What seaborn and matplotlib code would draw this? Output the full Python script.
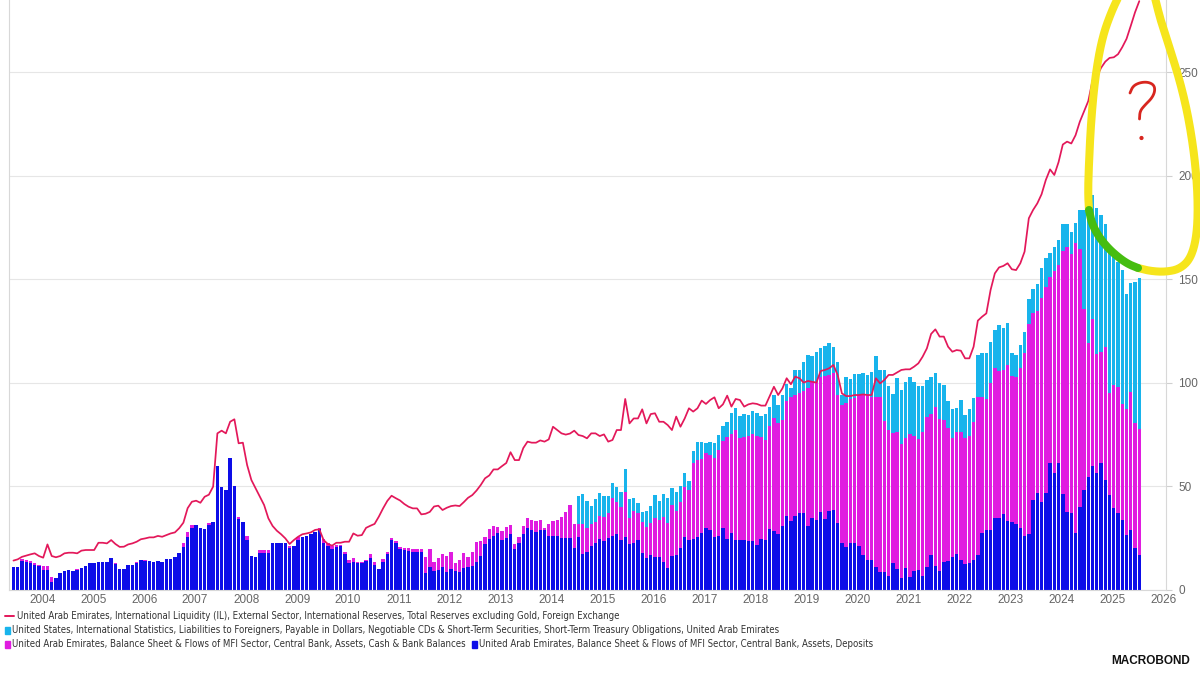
import numpy as np
import pandas as pd
import seaborn as sns
import matplotlib.pyplot as plt
from matplotlib import font_manager
from matplotlib.patches import Rectangle, Circle

sns.set_theme(style="white")

fonts = font_manager.fontManager.ttflist
names = {f.name for f in fonts}
if "Liberation Sans Narrow" in names:
    LEG_FAMILY, LEG_STRETCH = "Liberation Sans Narrow", "normal"
elif any(f.name == "DejaVu Sans" and f.stretch == "condensed" for f in fonts):
    LEG_FAMILY, LEG_STRETCH = "DejaVu Sans", "condensed"
else:
    LEG_FAMILY, LEG_STRETCH = "Liberation Sans", "normal"
plt.rcParams["font.family"] = ["Liberation Sans", "DejaVu Sans"]

# monthly data, Dec 2003 .. Jan 2026, USD bn
deposits = [
    10.9,                                                                     # 2003-12
    11.3, 14.0, 13.7, 12.9, 12.1, 11.7, 9.6, 9.6, 4.0, 5.6, 8.0, 9.3,          # 2004
    9.6, 9.3, 9.7, 10.5, 11.6, 12.9, 13.2, 13.7, 13.5, 13.4, 15.3, 12.4,      # 2005
    10.1, 10.3, 12.2, 12.2, 13.2, 14.5, 14.0, 13.8, 13.5, 14.2, 13.4, 14.8,   # 2006
    15.1, 16.1, 18.0, 20.9, 25.4, 29.8, 31.4, 30.1, 29.4, 31.4, 33.0, 60.0,   # 2007
    49.9, 48.3, 63.5, 50.2, 34.1, 33.0, 24.1, 16.6, 16.1, 18.0, 18.0, 18.0,   # 2008
    22.5, 22.5, 22.5, 22.5, 20.4, 21.2, 24.1, 25.7, 26.2, 26.9, 28.0, 29.4,   # 2009
    22.8, 21.4, 19.8, 20.9, 21.2, 17.4, 12.9, 13.7, 12.9, 13.2, 14.0, 15.5,   # 2010
    12.1, 10.0, 13.7, 17.4, 24.1, 22.5, 19.6, 19.3, 19.0, 18.5, 18.5, 18.5,   # 2011
    8.0, 10.9, 9.3, 9.7, 10.9, 8.8, 10.1, 9.2, 8.5, 10.8, 11.3, 11.6,         # 2012
    13.7, 16.6, 22.0, 24.5, 26.2, 27.3, 24.1, 25.3, 27.0, 19.6, 22.5, 26.9,   # 2013
    29.8, 29.0, 28.2, 29.0, 29.0, 26.1, 26.1, 26.1, 25.3, 25.3, 25.3, 20.4,   # 2014
    25.4, 17.4, 18.5, 21.2, 22.8, 24.5, 23.8, 24.9, 26.2, 26.9, 24.1, 25.7,   # 2015
    22.0, 22.8, 24.1, 18.0, 15.3, 16.9, 15.8, 16.1, 13.4, 10.8, 16.4, 16.7,   # 2016
    20.1, 25.4, 24.1, 24.5, 25.7, 27.3, 29.8, 29.0, 25.4, 26.1, 29.8, 24.5,   # 2017
    27.3, 24.1, 24.1, 24.1, 23.8, 23.6, 21.7, 24.5, 24.1, 29.3, 28.6, 27.0,   # 2018
    30.9, 35.7, 33.5, 35.7, 37.0, 37.0, 31.0, 34.9, 33.8, 37.8, 34.3, 38.3,   # 2019
    38.6, 32.2, 22.5, 20.9, 22.8, 22.8, 21.2, 16.9, 14.5, 14.5, 11.3, 8.8,    # 2020
    8.8, 6.8, 13.2, 10.0, 5.6, 10.8, 6.4, 9.3, 9.7, 6.8, 10.9, 16.9,          # 2021
    11.6, 9.3, 13.7, 14.2, 16.1, 17.4, 14.5, 12.5, 12.9, 14.5, 16.9, 27.7,    # 2022
    29.0, 29.0, 34.6, 34.9, 36.5, 33.5, 32.7, 31.7, 29.8, 26.1, 27.0, 43.4,   # 2023
    47.0, 42.6, 46.7, 61.1, 56.3, 61.5, 46.3, 37.8, 37.0, 27.7, 39.9, 48.3,   # 2024
    54.4, 59.8, 56.3, 61.1, 53.1, 45.8, 39.4, 37.0, 33.8, 26.5, 29.0, 20.1,   # 2025
    16.9,                                                                     # 2026-01
]

cash = [
    0.0,
    0.0, 0.8, 0.8, 1.1, 0.8, 0.5, 2.1, 2.1, 2.1, 0.0, 0.0, 0.0,               # 2004
    0.0, 0.0, 0.3, 0.0, 0.0, 0.0, 0.0, 0.0, 0.0, 0.0, 0.0, 0.5,               # 2005
    0.0, 0.0, 0.0, 0.0, 0.3, 0.0, 0.3, 0.0, 0.0, 0.0, 0.0, 0.0,               # 2006
    0.0, 0.0, 0.0, 1.6, 2.6, 1.6, 0.0, 0.0, 0.0, 0.9, 0.0, 0.0,               # 2007
    0.0, 0.0, 0.0, 0.0, 1.3, 0.0, 2.0, 0.0, 0.0, 1.1, 1.1, 1.1,               # 2008
    0.0, 0.0, 0.0, 0.0, 1.0, 0.0, 1.3, 0.0, 0.0, 0.0, 0.0, 0.7,               # 2009
    1.7, 1.1, 1.2, 0.7, 0.4, 1.1, 1.6, 1.6, 0.6, 0.3, 0.5, 2.0,               # 2010
    1.6, 0.0, 1.1, 1.1, 0.8, 1.1, 1.3, 1.1, 1.1, 1.1, 1.1, 1.1,               # 2011
    8.1, 8.9, 4.4, 5.6, 6.3, 7.8, 8.1, 3.7, 6.0, 6.9, 4.8, 6.9,               # 2012
    9.6, 7.2, 3.4, 4.9, 4.8, 3.3, 4.5, 5.3, 4.4, 2.6, 2.9, 4.1,               # 2013
    4.8, 4.8, 5.3, 4.8, 0.8, 5.8, 7.2, 7.7, 9.8, 12.5, 15.7, 11.5,            # 2014
    6.5, 14.5, 11.3, 10.7, 10.2, 11.4, 11.6, 12.1, 18.4, 15.4, 15.8, 21.4,    # 2015
    12.6, 15.5, 12.9, 14.7, 15.3, 15.6, 18.8, 17.7, 22.0, 21.4, 24.6, 21.6,   # 2016
    22.5, 24.1, 24.2, 36.6, 37.0, 35.8, 36.5, 36.2, 38.1, 41.5, 42.1, 49.2,   # 2017
    48.0, 53.1, 49.1, 49.9, 50.7, 51.7, 52.8, 49.2, 48.3, 49.9, 54.3, 53.4,   # 2018
    51.1, 55.7, 59.8, 58.4, 57.9, 59.2, 66.3, 66.1, 66.7, 65.2, 69.1, 65.5,   # 2019
    66.0, 61.9, 66.8, 69.5, 69.2, 70.0, 72.9, 77.2, 79.6, 78.8, 82.0, 84.5,   # 2020
    72.9, 70.4, 62.7, 66.4, 64.9, 62.4, 68.7, 65.0, 63.0, 69.6, 72.8, 67.9,   # 2021
    76.9, 73.1, 68.3, 63.8, 57.4, 59.0, 61.9, 61.0, 61.4, 66.7, 76.4, 65.3,   # 2022
    63.0, 71.1, 72.7, 71.0, 69.7, 75.1, 70.6, 70.9, 77.5, 88.4, 101.4, 90.4,  # 2023
    87.7, 98.2, 99.4, 90.1, 97.8, 95.4, 117.5, 127.9, 125.0, 139.6, 124.5, 87.2,  # 2024
    65.0, 70.8, 57.6, 53.9, 64.3, 49.1, 59.5, 60.8, 56.0, 60.7, 66.7, 60.3,   # 2025
    60.6,
]

# US TIC short-term treasuries held by UAE, starts Jan 2015
treasuries = [
    13.6, 14.4, 13.2, 8.8, 11.1, 11.1, 10.1, 8.4, 7.2, 7.6, 7.2, 11.1,        # 2015
    9.2, 5.9, 4.8, 4.8, 7.7, 8.0, 11.2, 9.3, 10.8, 12.4, 8.4, 9.2,            # 2016
    7.6, 7.1, 4.5, 6.1, 8.9, 8.5, 4.5, 6.4, 7.3, 7.2, 7.3, 7.3,               # 2017
    10.3, 10.5, 10.8, 10.9, 10.0, 11.1, 10.8, 10.4, 12.4, 9.3, 11.2, 8.9,     # 2018
    12.1, 7.9, 4.4, 12.1, 11.3, 14.0, 16.1, 11.9, 14.5, 13.6, 14.5, 15.6,     # 2019
    12.8, 16.1, 4.8, 12.2, 9.7, 11.3, 10.0, 10.8, 9.7, 12.1, 19.8, 12.9,      # 2020
    24.5, 21.3, 18.7, 25.8, 26.0, 27.3, 27.9, 26.2, 25.8, 22.1, 17.7, 17.8,   # 2021
    16.1, 17.7, 16.9, 13.4, 13.7, 11.6, 15.3, 11.0, 12.9, 11.3, 20.1, 21.5,   # 2022
    22.2, 19.4, 18.2, 22.0, 20.4, 20.1, 10.9, 10.8, 10.9, 10.2, 12.0, 11.3,   # 2023
    13.0, 14.8, 14.0, 11.6, 11.6, 12.0, 12.8, 10.9, 10.9, 10.0, 19.0, 47.9,   # 2024
    69.6, 60.0, 70.3, 66.0, 59.2, 71.3, 62.3, 60.7, 64.6, 55.8, 52.3, 68.2,   # 2025
    72.9,
]

reserves = [
    14.2,
    14.8, 16.0, 16.6, 17.2, 17.7, 16.4, 15.6, 22.0, 16.4, 15.8, 16.4, 17.7,   # 2004
    18.0, 18.0, 17.7, 19.0, 19.3, 19.3, 19.3, 22.8, 22.8, 22.5, 24.1, 22.2,   # 2005
    20.8, 20.9, 22.0, 22.5, 23.3, 24.5, 24.9, 25.4, 25.4, 26.1, 25.7, 26.5,   # 2006
    27.3, 27.8, 29.8, 32.5, 39.5, 42.6, 43.1, 42.1, 45.0, 46.0, 49.9, 75.6,   # 2007
    76.9, 75.6, 81.2, 82.4, 70.8, 71.1, 60.3, 53.1, 49.1, 45.0, 41.0, 34.6,   # 2008
    30.9, 28.6, 26.9, 24.9, 22.2, 24.1, 25.7, 26.9, 27.3, 27.8, 29.0, 29.3,   # 2009
    24.1, 22.2, 21.4, 22.8, 22.8, 23.3, 23.3, 27.3, 26.2, 26.5, 30.0, 31.0,   # 2010
    31.9, 35.4, 39.4, 43.0, 45.5, 44.3, 43.2, 41.5, 40.2, 39.4, 39.4, 36.5,   # 2011
    36.8, 37.7, 40.3, 40.7, 38.6, 39.7, 40.5, 40.8, 40.5, 42.4, 44.5, 45.8,   # 2012
    48.0, 50.7, 53.9, 55.3, 58.2, 58.2, 59.8, 61.3, 66.5, 62.7, 62.7, 68.5,   # 2013
    71.6, 71.1, 71.1, 72.2, 71.6, 72.7, 78.8, 77.2, 75.6, 75.0, 75.5, 76.9,   # 2014
    74.8, 74.3, 73.2, 75.6, 75.6, 74.3, 75.1, 71.6, 72.4, 77.2, 77.2, 92.2,   # 2015
    80.4, 82.8, 82.8, 87.2, 80.4, 84.9, 85.3, 81.2, 81.2, 79.6, 77.2, 83.7,   # 2016
    78.8, 82.8, 87.7, 86.1, 87.7, 91.4, 89.8, 91.7, 93.0, 87.7, 89.6, 93.8,   # 2017
    88.5, 92.2, 91.7, 88.5, 89.6, 90.1, 89.8, 89.0, 89.0, 93.6, 98.1, 94.1,   # 2018
    97.3, 102.2, 99.3, 103.0, 102.2, 100.1, 100.9, 100.5, 100.1, 105.7, 106.2, 107.0,  # 2019
    108.6, 103.8, 94.9, 93.6, 93.6, 94.1, 94.1, 94.4, 94.1, 94.1, 102.2, 99.7,  # 2020
    101.4, 103.8, 103.8, 105.0, 106.2, 106.5, 106.5, 107.8, 109.4, 112.6, 116.6, 123.6,  # 2021
    125.8, 122.3, 122.3, 117.4, 115.0, 115.8, 115.5, 111.8, 111.8, 117.4, 130.0, 131.9,  # 2022
    133.5, 144.8, 152.8, 155.7, 156.4, 157.7, 154.8, 154.4, 157.7, 163.3, 179.4, 183.4,  # 2023
    186.6, 191.0, 197.9, 203.0, 200.3, 206.5, 215.0, 216.4, 215.5, 219.5, 226.0, 231.0,  # 2024
    236.0, 246.0, 247.6, 252.0, 255.0, 256.8, 257.1, 258.6, 262.0, 266.0, 272.3, 278.8,  # 2025
    284.2,
]

years = list(range(2004, 2027))

legend_labels = [
    "United Arab Emirates, International Liquidity (IL), External Sector, International Reserves, "
    "Total Reserves excluding Gold, Foreign Exchange",
    "United States, International Statistics, Liabilities to Foreigners, Payable in Dollars, "
    "Negotiable CDs & Short-Term Securities, Short-Term Treasury Obligations, United Arab Emirates",
    "United Arab Emirates, Balance Sheet & Flows of MFI Sector, Central Bank, Assets, Cash & Bank Balances",
    "United Arab Emirates, Balance Sheet & Flows of MFI Sector, Central Bank, Assets, Deposits",
]

RED = "#e3185a"
CYAN = "#18b4ec"
MAGENTA = "#e01ce0"
BLUE = "#0d0de8"
GREY = "#666666"

months = pd.period_range("2003-12", periods=len(deposits), freq="M")
n_pad = len(deposits) - len(treasuries)
df = pd.DataFrame({
    "x": np.asarray(months.year + (months.month - 1) / 12 + 0.02, dtype=float),
    "deposits": deposits,
    "cash": cash,
    "treasuries": [0.0] * n_pad + treasuries,
    "reserves": reserves,
})
df["cash_top"] = df["deposits"] + df["cash"]
df["total"] = df["cash_top"] + df["treasuries"]

fig = plt.figure(figsize=(12, 6.75), dpi=100)
ax = fig.add_axes([9.3 / 1200, 85 / 675, (1166 - 9.3) / 1200, 590 / 675])

# stacked bars drawn as overlapping layers (tallest first)
for col, color in [("total", CYAN), ("cash_top", MAGENTA), ("deposits", BLUE)]:
    sns.barplot(data=df, x="x", y=col, native_scale=True, color=color, saturation=1,
                width=0.8, errorbar=None, linewidth=0, edgecolor="none", ax=ax)
sns.lineplot(data=df, x="x", y="reserves", color=RED, linewidth=1.25, ax=ax)

ax.set_xlim(2003.855, 2004 + (1166 - 16.7) / 50.98)
ax.set_ylim(0, 284.75)
ax.set_xlabel("")
ax.set_ylabel("")

ax.set_xticks(years)
ax.set_xticklabels([])
ax.set_xticks([y + 0.5 for y in years], minor=True)
ax.set_xticklabels([str(y) for y in years], minor=True)
ax.tick_params(axis="x", which="major", length=4, width=0.8, color="#cccccc", direction="out")
ax.tick_params(axis="x", which="minor", length=0, pad=3, labelsize=8.5, labelcolor=GREY)

ax.yaxis.tick_right()
ax.set_yticks(range(0, 251, 50))
ax.tick_params(axis="y", length=4, width=0.8, color="#d0d0d0", direction="out",
               pad=5, labelsize=8.5, labelcolor=GREY)
ax.grid(axis="y", color="#e6e6e6", linewidth=0.8)
ax.grid(axis="x", visible=False)
ax.set_axisbelow(True)
for side in ["left", "right", "bottom"]:
    ax.spines[side].set_color("#d8d8d8")
    ax.spines[side].set_linewidth(0.8)
ax.spines["top"].set_visible(False)

# overlay in pixel coordinates for legend, logo and the hand-drawn marks
ov = fig.add_axes([0, 0, 1, 1], zorder=5)
ov.set_xlim(0, 1200)
ov.set_ylim(675, 0)
ov.axis("off")

leg_kw = dict(fontsize=8.5, color="#333333", va="center", family=[LEG_FAMILY, "DejaVu Sans"],
              fontstretch=LEG_STRETCH)
t1 = ov.text(17, 616, legend_labels[0], **leg_kw)
t2 = ov.text(12, 630, legend_labels[1], **leg_kw)
t3 = ov.text(12, 644, legend_labels[2], **leg_kw)
t4 = ov.text(485, 644, legend_labels[3], **leg_kw)

# fit the legend font size so the first entry spans the same width as in the source
fig.canvas.draw()
renderer = fig.canvas.get_renderer()
w1 = t1.get_window_extent(renderer=renderer).width
size = 8.5 * 601 / w1
for t in (t1, t2, t3, t4):
    t.set_fontsize(size)
fig.canvas.draw()
end3 = t3.get_window_extent(renderer=renderer).x1
t4.set_x(end3 + 13)

ov.plot([5, 14], [616, 616], color=RED, lw=1.4)
ov.add_patch(Rectangle((5, 627), 5, 7, color=CYAN))
ov.add_patch(Rectangle((5, 641), 5, 7, color=MAGENTA))
ov.add_patch(Rectangle((end3 + 6, 641), 5, 7, color=BLUE))

ov.text(1190, 661, "MACROBOND", ha="right", va="center", fontsize=8.5,
        fontweight="bold", color="#111111")


def smooth(pts, n=4):
    p = np.asarray(pts, dtype=float)
    for _ in range(n):
        q = 0.75 * p[:-1] + 0.25 * p[1:]
        r = 0.25 * p[:-1] + 0.75 * p[1:]
        p = np.vstack([p[:1], np.column_stack([q, r]).reshape(-1, 2), p[-1:]])
    return p


left_arm = smooth([(1122, -10), (1112, 10), (1102, 38), (1095, 78), (1091, 122),
                   (1089, 162), (1088, 192), (1089, 210)])
green_arm = smooth([(1089, 210), (1092, 224), (1099, 237), (1108, 248),
                    (1118, 257), (1128, 264), (1138, 268)])
right_arm = smooth([(1138, 268), (1150, 271), (1165, 272), (1180, 269), (1191, 258),
                    (1197, 235), (1198, 200), (1195, 160), (1189, 120), (1181, 85),
                    (1171, 52), (1161, 22), (1153, -10)])
for arm, col in [(left_arm, "#f6e51c"), (right_arm, "#f6e51c"), (green_arm, "#46bd10")]:
    ov.plot(arm[:, 0], arm[:, 1], color=col, lw=5.8, solid_capstyle="round",
            solid_joinstyle="round")

hook = smooth([(1130, 93), (1133, 86), (1140, 82.5), (1148, 82), (1154, 85),
               (1155, 91), (1152, 98), (1145, 105), (1140, 111), (1139.5, 119)], n=3)
ov.plot(hook[:, 0], hook[:, 1], color="#d8261f", lw=2.0, solid_capstyle="round")
ov.add_patch(Circle((1141.5, 138), 1.4, color="#d8261f"))

fig.savefig("out.png", dpi=100, facecolor="white")
